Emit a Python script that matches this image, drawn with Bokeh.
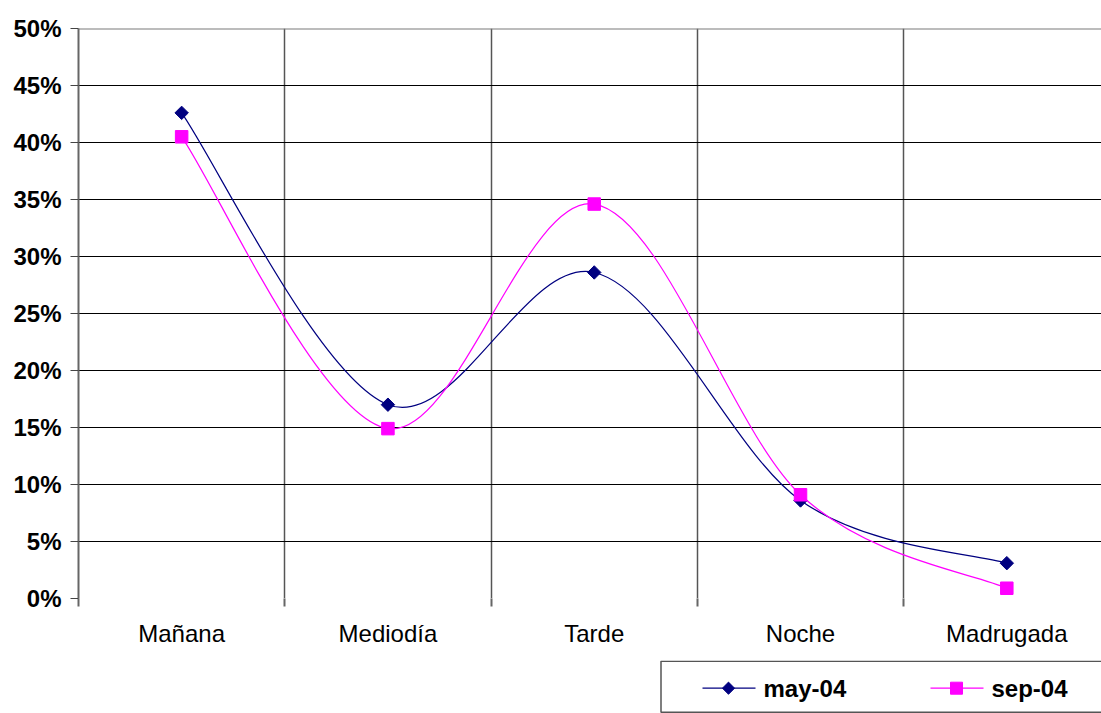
import math
from bokeh.plotting import figure
from bokeh.layouts import column
from bokeh.models import FixedTicker, Span
from bokeh.core.properties import value
from bokeh.embed import file_html
from bokeh.resources import INLINE

# ---- data ----
categories = ["Mañana", "Mediodía", "Tarde", "Noche", "Madrugada"]
may_04 = [0.426, 0.170, 0.286, 0.086, 0.031]
sep_04 = [0.405, 0.149, 0.346, 0.091, 0.009]
series_names = ["may-04", "sep-04"]
series_colors = ["#000080", "#ff00ff"]
y_ticks = [0.0, 0.05, 0.10, 0.15, 0.20, 0.25, 0.30, 0.35, 0.40, 0.45, 0.50]
y_tick_labels = ["0%", "5%", "10%", "15%", "20%", "25%", "30%", "35%", "40%", "45%", "50%"]

FONT = "Liberation Sans"
x_pos = list(range(len(categories)))


def smooth_segments(xs, ys):
    """Bezier control points (Excel-like smoothing) from the data points."""
    n = len(xs)

    def pt(i):
        i = min(max(i, 0), n - 1)
        return xs[i], ys[i]

    seg = dict(x0=[], y0=[], x1=[], y1=[], cx0=[], cy0=[], cx1=[], cy1=[])
    for i in range(n - 1):
        xa, ya = pt(i - 1)
        xb, yb = pt(i)
        xc, yc = pt(i + 1)
        xd, yd = pt(i + 2)
        seg["x0"].append(xb); seg["y0"].append(yb)
        seg["x1"].append(xc); seg["y1"].append(yc)
        seg["cx0"].append(xb + (xc - xa) / 6.0)
        seg["cy0"].append(yb + (yc - ya) / 6.0)
        seg["cx1"].append(xc - (xd - xb) / 6.0)
        seg["cy1"].append(yc - (yd - yb) / 6.0)
    return seg


# ---------------- main chart ----------------
p = figure(width=1101, height=660, x_range=(-0.5, 4.459), y_range=(0, 0.5),
           output_backend="svg", toolbar_location=None,
           min_border_left=78, min_border_right=0, min_border_top=28,
           min_border_bottom=62)
p.background_fill_color = "white"
p.border_fill_color = "white"
p.outline_line_color = None

# grid
p.ygrid.ticker = FixedTicker(ticks=y_ticks[:-1])
p.ygrid.grid_line_color = "black"
p.ygrid.grid_line_width = 1
p.xgrid.ticker = FixedTicker(ticks=[0.5, 1.5, 2.5, 3.5])
p.xgrid.grid_line_color = "#555555"
p.xgrid.grid_line_width = 1.5
p.add_layout(Span(location=y_ticks[-1], dimension="width", line_color="#7a7a7a", line_width=2))

# y axis
p.yaxis.ticker = FixedTicker(ticks=y_ticks)
p.yaxis.major_label_overrides = {t: l for t, l in zip(y_ticks, y_tick_labels)}
p.yaxis.axis_line_color = "#666666"
p.yaxis.axis_line_width = 2
p.yaxis.major_tick_line_color = "#444444"
p.yaxis.major_tick_out = 8
p.yaxis.major_tick_in = 0
p.yaxis.minor_tick_line_color = None
p.yaxis.major_label_standoff = 9
p.yaxis.major_label_text_font = FONT
p.yaxis.major_label_text_font_style = "bold"
p.yaxis.major_label_text_font_size = "24px"
p.yaxis.major_label_text_color = "black"

# x axis
p.xaxis.ticker = FixedTicker(ticks=x_pos, minor_ticks=[-0.5, 0.5, 1.5, 2.5, 3.5, 4.5])
p.xaxis.major_label_overrides = {i: c for i, c in zip(x_pos, categories)}
p.xaxis.axis_line_color = None
p.xaxis.major_tick_line_color = None
p.xaxis.major_tick_out = 8
p.xaxis.major_tick_in = 0
p.xaxis.minor_tick_line_color = "#666666"
p.xaxis.minor_tick_line_width = 2
p.xaxis.minor_tick_out = 8
p.xaxis.minor_tick_in = 0
p.xaxis.major_label_standoff = 13
p.xaxis.major_label_text_font = FONT
p.xaxis.major_label_text_font_size = "24px"
p.xaxis.major_label_text_color = "black"

# series
for vals, color, marker in [(may_04, series_colors[0], "diamond"),
                            (sep_04, series_colors[1], "square")]:
    seg = smooth_segments(x_pos, vals)
    p.bezier(source=seg, x0="x0", y0="y0", x1="x1", y1="y1",
             cx0="cx0", cy0="cy0", cx1="cx1", cy1="cy1",
             line_color=color, line_width=1.2)
    if marker == "diamond":
        p.scatter(x_pos, vals, marker="square", angle=math.pi / 4, size=9.5,
                  fill_color=color, line_color=color)
    else:
        p.scatter(x_pos, vals, marker="square", size=12.5,
                  fill_color=color, line_color=color)

# ---------------- legend strip (below the chart) ----------------
# its frame is aligned with the chart's frame (page x 78 .. 1101)
lg = figure(width=1101, height=53, x_range=(78, 1101), y_range=(0, 53),
            output_backend="svg", toolbar_location=None,
            x_axis_location=None, y_axis_location=None,
            min_border_left=0, min_border_right=0, min_border_top=0,
            min_border_bottom=0)
lg.grid.visible = False
lg.outline_line_color = None
lg.background_fill_color = "white"
lg.border_fill_color = "white"

lg.quad(left=[660.5], right=[1140], bottom=[1.3], top=[52.3],
        fill_color="white", line_color="#555555", line_width=1.5)

item_x = [702, 930]
cy = 25.3
for i, (name, color) in enumerate(zip(series_names, series_colors)):
    x0 = item_x[i]
    lg.segment(x0=[x0], y0=[cy], x1=[x0 + 53], y1=[cy], line_color=color, line_width=1.2)
    if i == 0:
        lg.scatter([x0 + 26], [cy], marker="square", angle=math.pi / 4, size=8.6,
                   fill_color=color, line_color=color)
    else:
        lg.scatter([x0 + 26], [cy], marker="square", size=12,
                   fill_color=color, line_color=color)
    lg.text([x0 + 61], [cy], text=[name], text_font=value(FONT),
            text_font_style="bold", text_font_size="24px", text_color="black",
            text_baseline="middle", text_align="left")

layout = column(p, lg, spacing=0)
open("out.html", "w").write(file_html(layout, INLINE))
